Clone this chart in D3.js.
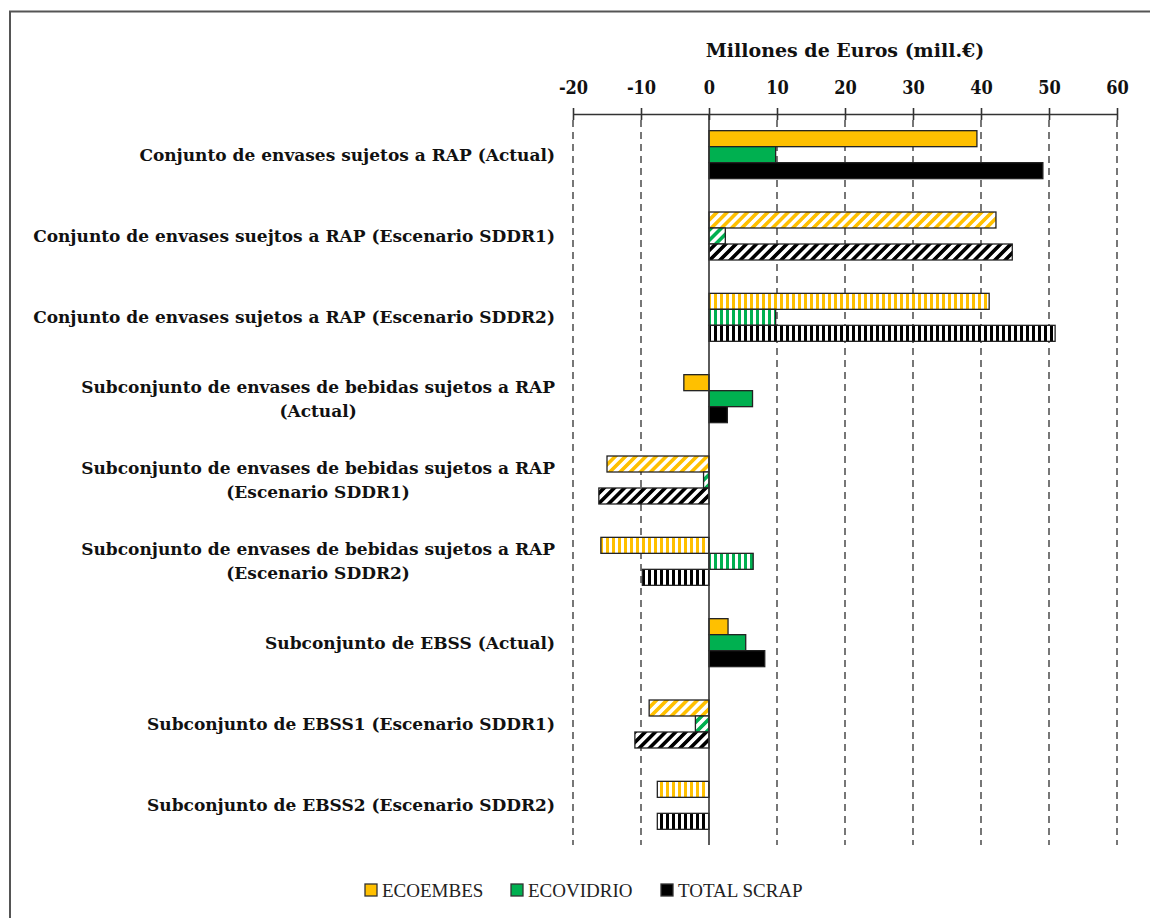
<!DOCTYPE html>
<html>
<head>
<meta charset="utf-8">
<script src="https://cdn.jsdelivr.net/npm/d3@7"></script>
<style>
  html, body { margin: 0; padding: 0; background: #fff; }
  svg { display: block; }
</style>
</head>
<body>
<svg id="chart" width="1150" height="918"></svg>
<script>
// Categories (each entry is the list of lines of its label)
const categories = [
  ["Conjunto de envases sujetos a RAP (Actual)"],
  ["Conjunto de envases suejtos a RAP (Escenario SDDR1)"],
  ["Conjunto de envases sujetos a RAP (Escenario SDDR2)"],
  ["Subconjunto de envases de bebidas sujetos a RAP", "(Actual)"],
  ["Subconjunto de envases de bebidas sujetos a RAP", "(Escenario SDDR1)"],
  ["Subconjunto de envases de bebidas sujetos a RAP", "(Escenario SDDR2)"],
  ["Subconjunto de EBSS (Actual)"],
  ["Subconjunto de EBSS1 (Escenario SDDR1)"],
  ["Subconjunto de EBSS2 (Escenario SDDR2)"]
];
// Fill style of each category's bars: solid, diagonal hatch, vertical hatch
const fillStyles = ["solid", "diag", "vert", "solid", "diag", "vert", "solid", "diag", "vert"];

const seriesNames = ["ECOEMBES", "ECOVIDRIO", "TOTAL SCRAP"];
const ecoembes   = [39.4, 42.2, 41.2, -3.7, -15.0, -15.9, 2.8, -8.8, -7.6];
const ecovidrio  = [9.8, 2.4, 9.8, 6.4, -0.8, 6.5, 5.4, -2.0, 0];
const totalScrap = [49.1, 44.6, 50.9, 2.7, -16.2, -9.8, 8.2, -10.9, -7.6];
const xTicks = [-20, -10, 0, 10, 20, 30, 40, 50, 60];
const axisTitle = "Millones de Euros (mill.€)";

const seriesValues = [ecoembes, ecovidrio, totalScrap];
const seriesColors = ["#FFC000", "#00B050", "#000000"];

const BOLD_FONT = "'DejaVu Serif', serif";
const TICK_FONT = "'DejaVu Serif Condensed', 'DejaVu Serif', serif";
const FONT = "'Liberation Serif', 'DejaVu Serif', serif";
const svg = d3.select("#chart");

svg.append("rect").attr("width", 1150).attr("height", 918).attr("fill", "#fff");
// outer frame
svg.append("rect")
  .attr("x", 10).attr("y", 11.5).attr("width", 1160).attr("height", 930)
  .attr("fill", "none").attr("stroke", "#555").attr("stroke-width", 2);

// hatch patterns
const defs = svg.append("defs");
seriesColors.forEach((c, i) => {
  const d = defs.append("pattern")
    .attr("id", "diag-" + i).attr("patternUnits", "userSpaceOnUse")
    .attr("width", 7.2).attr("height", 7.2).attr("patternTransform", "rotate(45)");
  d.append("rect").attr("width", 7.2).attr("height", 7.2).attr("fill", "#fff");
  d.append("rect").attr("width", 3.6).attr("height", 7.2).attr("fill", c);

  const v = defs.append("pattern")
    .attr("id", "vert-" + i).attr("patternUnits", "userSpaceOnUse")
    .attr("width", 6).attr("height", 6);
  v.append("rect").attr("width", 6).attr("height", 6).attr("fill", "#fff");
  v.append("rect").attr("width", 3).attr("height", 6).attr("fill", c);
});

const x = d3.scaleLinear().domain([-20, 60]).range([573, 1117]);
const y0 = d3.scaleBand().domain(d3.range(categories.length))
  .range([114, 846]).paddingInner(0.41).paddingOuter(0.205);
const y1 = d3.scaleBand().domain(d3.range(seriesNames.length))
  .range([0, y0.bandwidth()]);

const axisY = 114, gridBottom = 845;

// dashed gridlines
svg.append("g").selectAll("line")
  .data(xTicks.filter(t => t !== 0))
  .join("line")
  .attr("x1", d => x(d)).attr("x2", d => x(d))
  .attr("y1", axisY + 6).attr("y2", gridBottom)
  .attr("stroke", "#555").attr("stroke-width", 1.6)
  .attr("stroke-dasharray", "7,5");

// top axis
const axis = d3.axisTop(x).tickValues(xTicks).tickSize(0).tickPadding(0).tickFormat(d => String(d));
const gAxis = svg.append("g").attr("transform", `translate(0,${axisY})`).call(axis);
gAxis.select(".domain").attr("stroke", "#333").attr("stroke-width", 1.6);
gAxis.selectAll(".tick line").remove();
gAxis.selectAll(".tick").append("line")
  .attr("y1", -6).attr("y2", 6).attr("stroke", "#333").attr("stroke-width", 1.6);
gAxis.selectAll(".tick text")
  .attr("y", -20)
  .attr("font-family", TICK_FONT).attr("font-weight", "bold")
  .attr("font-size", 18).attr("fill", "#111");

svg.append("text")
  .attr("x", 845).attr("y", 57)
  .attr("text-anchor", "middle")
  .attr("font-family", BOLD_FONT).attr("font-weight", "bold")
  .attr("font-size", 19).attr("fill", "#111")
  .text(axisTitle);

// bars
const bars = [];
categories.forEach((cat, ci) => {
  seriesValues.forEach((vals, si) => {
    bars.push({ ci, si, v: vals[ci], style: fillStyles[ci] });
  });
});
svg.append("g").selectAll("rect")
  .data(bars.filter(b => b.v !== 0))
  .join("rect")
  .attr("x", d => x(Math.min(0, d.v)))
  .attr("width", d => Math.abs(x(d.v) - x(0)))
  .attr("y", d => y0(d.ci) + y1(d.si))
  .attr("height", y1.bandwidth())
  .attr("fill", d => d.style === "solid" ? seriesColors[d.si]
        : `url(#${d.style}-${d.si})`)
  .attr("stroke", "#222").attr("stroke-width", 1.3);

// zero line
svg.append("line")
  .attr("x1", x(0)).attr("x2", x(0))
  .attr("y1", axisY).attr("y2", gridBottom)
  .attr("stroke", "#333").attr("stroke-width", 1.6);

// category labels
const labelRight = 555;
const labels = svg.append("g");
categories.forEach((lines, ci) => {
  const cy = y0(ci) + y0.bandwidth() / 2;
  const t = labels.append("text")
    .attr("font-family", BOLD_FONT).attr("font-weight", "bold")
    .attr("font-size", 17).attr("fill", "#111");
  const lh = 24;
  lines.forEach((ln, li) => {
    t.append("tspan").attr("y", cy + (li - (lines.length - 1) / 2) * lh)
      .attr("dy", "0.35em").text(ln);
  });
  // block is centred on its longest line, right edge at labelRight
  const widths = t.selectAll("tspan").nodes().map(n => n.getComputedTextLength());
  const w = d3.max(widths);
  t.attr("text-anchor", "middle");
  t.selectAll("tspan").attr("x", labelRight - w / 2);
});

// legend
const legendX = [365, 511, 661];
const lg = svg.append("g");
seriesNames.forEach((name, i) => {
  lg.append("rect")
    .attr("x", legendX[i]).attr("y", 884).attr("width", 12).attr("height", 12)
    .attr("fill", seriesColors[i]).attr("stroke", "#333").attr("stroke-width", 1.3);
  lg.append("text")
    .attr("x", legendX[i] + 17).attr("y", 897)
    .attr("font-family", FONT).attr("font-size", 19).attr("fill", "#222")
    .text(name);
});
</script>
</body>
</html>
